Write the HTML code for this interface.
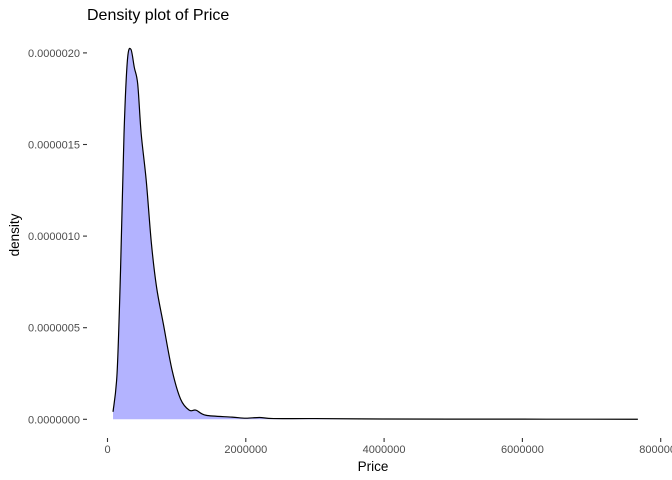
<!DOCTYPE html>
<html><head><meta charset="utf-8"><style>
body{margin:0;background:#fff;}
svg{display:block;font-family:"Liberation Sans",Arial,sans-serif;}
</style></head><body>
<svg id="chart" width="672" height="480">
<text x="87" y="20" font-size="16" fill="#000">Density plot of Price</text>
<text transform="translate(19,235) rotate(-90)" text-anchor="middle" font-size="13.5" fill="#000">density</text>
<text x="373" y="471" text-anchor="middle" font-size="13.5" fill="#000">Price</text>
<g id="yaxis"></g>
<g id="xaxis"></g>
<g id="plot"></g>
</svg>
<script>
const prices = [80,139,189,239,288,338,388,437,487,561,635,710,808,933,1057,1181,1280,1424,1800,2000,2200,2400,3000,4000,5000,6000,7000,7670];
const densities = [0.041,0.256,0.82,1.56,1.96,2.02,1.92,1.83,1.56,1.30,0.96,0.72,0.52,0.27,0.11,0.05,0.05,0.022,0.012,0.006,0.01,0.004,0.004,0.0015,0.001,0.0008,0.0006,0.0004];
const yTicks = [0,0.5,1.0,1.5,2.0];
const yTickLabels = ["0.0000000","0.0000005","0.0000010","0.0000015","0.0000020"];
const xTicks = [0,2000,4000,6000,8000];
const xTickLabels = ["0","2000000","4000000","6000000","8000000"];

const NS="http://www.w3.org/2000/svg";
const xs = v => 107.5 + v/2000*138.3;
const ys = v => 419.3 - v/0.5*91.6;
function mk(tag, attrs, parent){const e=document.createElementNS(NS,tag);for(const k in attrs)e.setAttribute(k,attrs[k]);parent.appendChild(e);return e;}
const yg=document.getElementById('yaxis'), xg=document.getElementById('xaxis'), pg=document.getElementById('plot');
yTicks.forEach((t,i)=>{
  const l=mk('line',{x1:83,x2:87,y1:ys(t),y2:ys(t),stroke:'#333','stroke-width':1.1},yg);
  
  
  const tx=mk('text',{x:80,y:ys(t)+4,'text-anchor':'end','font-size':'11','fill':'#4d4d4d'},yg);
  tx.textContent=yTickLabels[i];
  
  
});
xTicks.forEach((t,i)=>{
  const l=mk('line',{x1:xs(t),x2:xs(t),y1:438,y2:442,stroke:'#333','stroke-width':1.1},xg);
  
  
  const tx=mk('text',{x:xs(t),y:453,'text-anchor':'middle','font-size':'11','fill':'#4d4d4d'},xg);
  tx.textContent=xTickLabels[i];
  
  
});
const pts=prices.map((p,i)=>[xs(p),ys(densities[i])]);
function smooth(p){let d=`M${p[0][0]},${p[0][1]}`;for(let i=0;i<p.length-1;i++){const p0=p[i-1]||p[i],p1=p[i],p2=p[i+1],p3=p[i+2]||p2;
const c1=[p1[0]+(p2[0]-p0[0])/6,p1[1]+(p2[1]-p0[1])/6],c2=[p2[0]-(p3[0]-p1[0])/6,p2[1]-(p3[1]-p1[1])/6];
d+=` C${c1[0]},${c1[1]} ${c2[0]},${c2[1]} ${p2[0]},${p2[1]}`;}return d;}
const line=smooth(pts);
const area=mk('path',{d:line+` L${pts[pts.length-1][0]},${ys(0)} L${pts[0][0]},${ys(0)} Z`,fill:'#b3b3ff',stroke:'none'},pg);


const ln=mk('path',{d:line,fill:'none',stroke:'#000','stroke-width':1.2},pg);


</script>
</body></html>
